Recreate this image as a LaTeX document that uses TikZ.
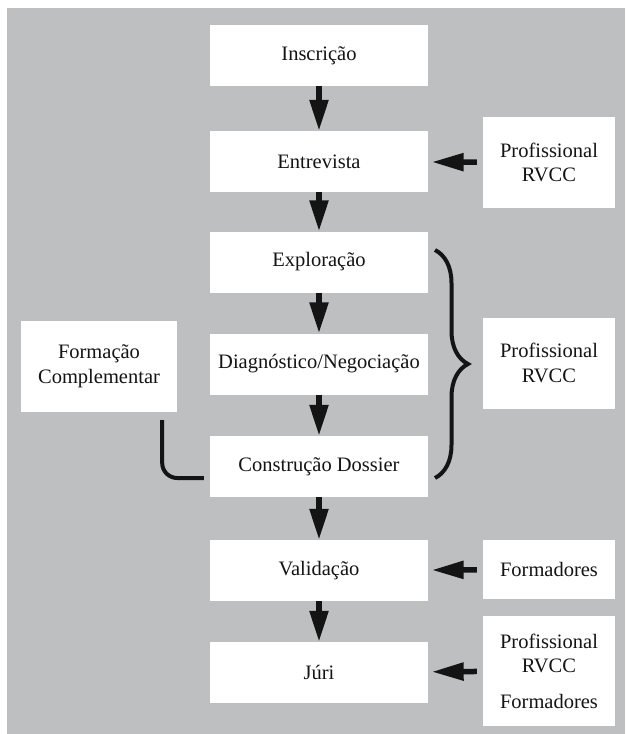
\documentclass[tikz,border=0pt]{standalone}
\usepackage{fontspec}
\setmainfont{Liberation Serif}
\usetikzlibrary{arrows.meta,decorations.pathreplacing}
\definecolor{bggray}{RGB}{190,191,193}
\definecolor{ink}{RGB}{20,20,20}

\begin{document}
\begin{tikzpicture}[x=1pt,y=-1pt,
  stage/.style={fill=white,minimum width=218pt,minimum height=61pt,inner sep=0pt,text=ink,font=\fontsize{20.5}{24}\selectfont},
  actor/.style={fill=white,minimum width=132pt,inner sep=0pt,align=center,text=ink,font=\fontsize{20.5}{24.5}\selectfont},
  flow/.style={-{Triangle[length=31pt,width=18pt]},line width=5.5pt,draw=ink},
  feed/.style={-{Triangle[length=32pt,width=17pt]},line width=5.5pt,draw=ink,shorten <=6pt,shorten >=3.5pt},
  bar/.style={line width=4pt,draw=ink}]
\useasboundingbox (0,0) rectangle (625,734);
\fill[bggray] (7,8) rectangle (625,734);

% the path, top to bottom
\draw (319,55.5)  node (inscr)  [stage] {Inscrição};
\draw (319,161.5) node (entrev) [stage] {Entrevista};
\draw (319,262)   node (explo)  [stage] {Exploração};
\draw (319,364)   node (diagn)  [stage] {Diagnóstico/Negociação};
\draw (319,466.5) node (constr) [stage] {Construção Dossier};
\draw (319,570.5) node (valid)  [stage] {Validação};
\draw (319,672.5) node (juri)   [stage] {Júri};

\draw[flow] (inscr)  -- (entrev);
\draw[flow] (entrev) -- (explo);
\draw[flow] (explo)  -- (diagn);
\draw[flow] (diagn)  -- (constr);
\draw[flow] (constr) -- (valid);
\draw[flow] (valid)  -- (juri);

% who takes part
\draw (549,162.5) node (prof1) [actor,minimum height=91pt] {Profissional\\RVCC};
\draw (549,363)   node (prof2) [actor,minimum height=91pt] {Profissional\\RVCC};
\draw (549,569.5) node (form1) [actor,minimum height=59pt] {Formadores};
\draw (549,671)   node (prof3) [actor,minimum height=110pt] {Profissional\\RVCC\\[11pt]Formadores};

\draw[feed] (prof1) -- (entrev);
\draw[feed] (form1) -- (valid);
\draw[feed] (prof3) -- (juri);

\coordinate (bracetop) at (435,250);
\coordinate (bracebot) at (435,478);
\draw[bar,decorate,decoration={brace,amplitude=33pt}] (bracetop) -- (bracebot);

% extra training
\draw (99,366.5) node (compl) [actor,minimum width=156pt,minimum height=91pt] {Formação\\Complementar};
\draw[bar,rounded corners=15pt] ([xshift=-15pt,yshift=-8pt]compl.south east) |- ([xshift=-6pt,yshift=-11.5pt]constr.west);
\end{tikzpicture}
\end{document}
